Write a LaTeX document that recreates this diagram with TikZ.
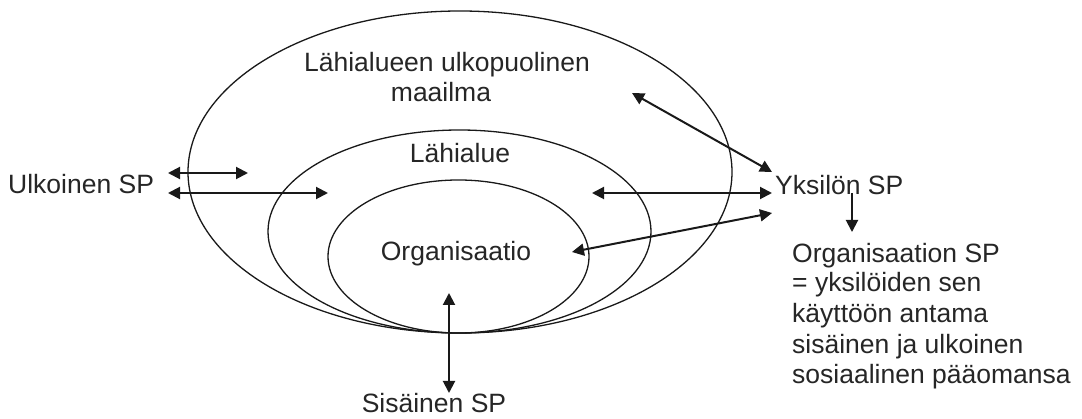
\documentclass[tikz,border=0pt]{standalone}
\usepackage{fontspec}
\setmainfont{Liberation Sans}
\usetikzlibrary{arrows.meta}
\begin{document}
\begin{tikzpicture}[x=1pt,y=-1pt,
  ring/.style={draw=black!90, line width=1.3pt},
  label/.style={inner sep=0pt, font=\fontsize{26.5}{30}\selectfont, text=black!85},
  link/.style={draw=black!90, line width=2pt,
    {Triangle[length=12pt,width=12pt]}-{Triangle[length=12pt,width=12pt]}},
  oneway/.style={draw=black!90, line width=2pt, -{Triangle[length=12pt,width=12pt]}}]
\useasboundingbox (0,0) rectangle (1082,419);
\fill[white] (0,0) rectangle (1082,419);

% nested areas
\draw[ring] (460,172) ellipse [x radius=272pt, y radius=161pt];
\draw[ring] (459.5,231.5) ellipse [x radius=191.5pt, y radius=101.5pt];
\draw[ring] (458.5,256.5) ellipse [x radius=130.5pt, y radius=76.5pt];

% labels
\node[label, anchor=base] (world) at (447,72) {Lähialueen ulkopuolinen};
\node[label, anchor=base] (world2) at (441,102) {maailma};
\node[label, anchor=base] (near) at (460,163) {Lähialue};
\node[label, anchor=base] (org) at (456,261) {Organisaatio};
\node[label, anchor=base] (inner) at (434,413) {Sisäinen SP};
\node[label, anchor=base west] (outer) at (8,194) {Ulkoinen SP};
\node[label, anchor=base west] (indiv) at (775,195) {Yksilön SP};
\node[label, anchor=base west, align=left] (orgsp) at (792,263)
  {Organisaation SP};
\node[label, anchor=base west] (l2) at (792,292) {= yksilöiden sen};
\node[label, anchor=base west] (l3) at (792,323) {käyttöön antama};
\node[label, anchor=base west] (l4) at (792,354) {sisäinen ja ulkoinen};
\node[label, anchor=base west] (l5) at (792,384) {sosiaalinen pääomansa};

% connector ends
\coordinate (oa) at (168,173); \coordinate (ob) at (248,173);
\coordinate (oc) at (168,193); \coordinate (od) at (328,193);
\coordinate (ya) at (632,93);  \coordinate (yb) at (772,172);
\coordinate (yc) at (592,193); \coordinate (yd) at (772,193);
\coordinate (ye) at (572,252); \coordinate (yf) at (772,213);
\coordinate (da) at (852,193); \coordinate (db) at (852,232);
\coordinate (sa) at (449,293); \coordinate (sb) at (449,393);

% exchanges
\draw[link] (oa) -- (ob);
\draw[link] (oc) -- (od);
\draw[link] (ya) -- (yb);
\draw[link] (yc) -- (yd);
\draw[link] (ye) -- (yf);
\draw[oneway] (da) -- (db);
\draw[link] (sa) -- (sb);
\end{tikzpicture}
\end{document}
